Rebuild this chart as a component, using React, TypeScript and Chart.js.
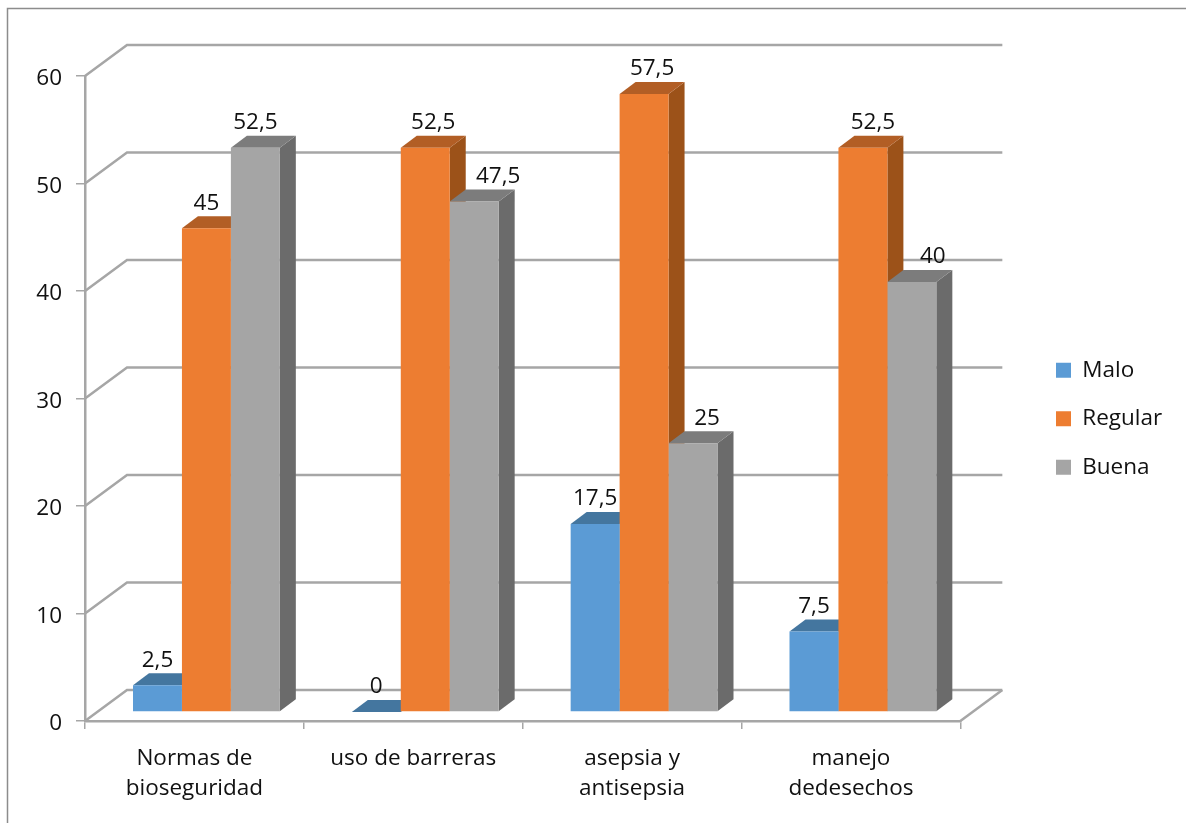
import React, { useEffect, useRef } from "react";
import { Chart, registerables } from "chart.js";

Chart.register(...registerables);

const categories = [["Normas de", "bioseguridad"], "uso de barreras", ["asepsia y", "antisepsia"], ["manejo", "dedesechos"]];
const maloValues = [2.5, 0, 17.5, 7.5];
const regularValues = [45, 52.5, 57.5, 52.5];
const buenaValues = [52.5, 47.5, 25, 40];
const seriesNames = ["Malo", "Regular", "Buena"];
const frontColors = ["#5b9bd5", "#ed7d31", "#a5a5a5"];
const topColors = ["#44769f", "#b25e25", "#7c7c7c"];
const sideColors = ["#41719c", "#9c5219", "#6b6b6b"];

// Sideways nudges that keep value labels clear of the taller neighbouring bar.
const labelNudges = [
  [0, 0, 0, 0],
  [0, 8, 8, 10],
  [0, 24, 14, 21],
];

const FONT = "'Open Sans'";
const FONT_SIZE = 22.5;
const TEXT = "#111111";
const GRID = "#a6a6a6";
// Depth of the box behind the plot, and placement of the bars inside it.
const WALL = { dx: 42, dy: -31 };
const BAR_OFFSET = { dx: 12, dy: -9 };
const BAR_DEPTH = { dx: 16, dy: -12 };

const polygon = (ctx: CanvasRenderingContext2D, pts: number[][], fill: string) => {
  ctx.beginPath();
  pts.forEach(([x, y], i) => (i ? ctx.lineTo(x, y) : ctx.moveTo(x, y)));
  ctx.closePath();
  ctx.fillStyle = fill;
  ctx.fill();
};

// Back wall, side wall and floor of the 3D box, then the receding bar faces.
const wallsPlugin = {
  id: "walls",
  beforeDatasetsDraw(chart: any) {
    const { ctx, scales } = chart;
    const { x, y } = scales;
    ctx.save();
    ctx.strokeStyle = "#8c8c8c";
    ctx.lineWidth = 1.5;
    ctx.beginPath();
    ctx.moveTo(7.5, 823);
    ctx.lineTo(7.5, 8.5);
    ctx.lineTo(1186, 8.5);
    ctx.stroke();
    ctx.strokeStyle = GRID;
    ctx.lineWidth = 2.5;
    ctx.lineJoin = "miter";
    y.ticks.forEach((t: any) => {
      const py = y.getPixelForValue(t.value);
      ctx.beginPath();
      ctx.moveTo(x.left, py);
      ctx.lineTo(x.left + WALL.dx, py + WALL.dy);
      ctx.lineTo(x.right + WALL.dx, py + WALL.dy);
      ctx.stroke();
    });
    const floor = y.getPixelForValue(0);
    ctx.beginPath();
    ctx.moveTo(x.right, floor);
    ctx.lineTo(x.right + WALL.dx, floor + WALL.dy);
    ctx.stroke();

    // Left-to-right so a neighbour's top face sits over the side face before it.
    ctx.translate(BAR_OFFSET.dx, BAR_OFFSET.dy);
    chart.data.datasets.forEach((_: any, i: number) => {
      chart.getDatasetMeta(i).data.forEach((bar: any) => {
        const l = bar.x - bar.width / 2;
        const r = bar.x + bar.width / 2;
        const { dx, dy } = BAR_DEPTH;
        polygon(ctx, [[r, bar.y], [r + dx, bar.y + dy], [r + dx, bar.base + dy], [r, bar.base]], sideColors[i]);
        polygon(ctx, [[l, bar.y], [l + dx, bar.y + dy], [r + dx, bar.y + dy], [r, bar.y]], topColors[i]);
      });
    });
    ctx.restore();
  },
};

// Shifts the front faces into the box and writes the value labels.
const barsPlugin = {
  id: "bars3d",
  beforeDatasetDraw(chart: any) {
    chart.ctx.save();
    chart.ctx.translate(BAR_OFFSET.dx, BAR_OFFSET.dy);
  },
  afterDatasetDraw(chart: any) {
    chart.ctx.restore();
  },
  afterDatasetsDraw(chart: any) {
    const { ctx } = chart;
    ctx.save();
    ctx.font = `${FONT_SIZE}px ${FONT}`;
    ctx.fillStyle = TEXT;
    ctx.textAlign = "center";
    ctx.textBaseline = "middle";
    chart.data.datasets.forEach((ds: any, i: number) => {
      chart.getDatasetMeta(i).data.forEach((bar: any, j: number) => {
        const label = String(ds.data[j]).replace(".", ",");
        ctx.fillText(label, bar.x + BAR_OFFSET.dx + labelNudges[i][j], bar.y + BAR_OFFSET.dy - 25);
      });
    });
    ctx.restore();
  },
};

// Places the legend in the right margin, clear of the plot box.
const LEGEND_PADDING = 26;
const legendPlacement = {
  id: "legendPlacement",
  afterLayout(chart: any) {
    const legend = chart.legend;
    const h = legend.bottom - legend.top;
    const w = legend.right - legend.left;
    legend.left = 1056 - LEGEND_PADDING;
    legend.right = legend.left + w;
    legend.top = 333;
    legend.bottom = legend.top + h;
  },
};

export default function App() {
  const ref = useRef<HTMLCanvasElement>(null);
  useEffect(() => {
    const values = [maloValues, regularValues, buenaValues];
    const chart = new Chart(ref.current!, {
      type: "bar",
      data: {
        labels: categories,
        datasets: seriesNames.map((label, i) => ({
          label,
          data: values[i],
          backgroundColor: frontColors[i],
          borderWidth: 0,
          categoryPercentage: 0.671,
          barPercentage: 1,
        })),
      },
      plugins: [wallsPlugin, barsPlugin, legendPlacement],
      options: {
        responsive: false,
        animation: false,
        layout: { padding: { top: 76, right: 83.5, left: 0, bottom: 0 } },
        plugins: {
          tooltip: { enabled: false },
          title: { display: false },
          legend: {
            position: "right",
            align: "start",
            labels: {
              boxWidth: 15,
              boxHeight: 15,
              padding: LEGEND_PADDING,
              color: TEXT,
              font: { family: FONT, size: FONT_SIZE, lineHeight: 1.2 },
            },
          },
        },
        scales: {
          x: {
            afterFit: (s: any) => { s.height = 102; },
            border: { color: GRID, width: 2.5 },
            grid: { drawOnChartArea: false, color: GRID, tickLength: 8, lineWidth: 1.5 },
            ticks: {
              color: TEXT,
              padding: 15,
              maxRotation: 0,
              font: { family: FONT, size: FONT_SIZE, lineHeight: 1.33 },
            },
          },
          y: {
            min: 0,
            max: 60,
            afterFit: (s: any) => { s.width = 85; },
            border: { color: GRID, width: 2.5 },
            grid: { drawOnChartArea: false, color: GRID, tickLength: 9, lineWidth: 1.5 },
            ticks: {
              stepSize: 10,
              color: TEXT,
              padding: 14,
              labelOffset: 3,
              font: { family: FONT, size: FONT_SIZE },
            },
          },
        },
      },
    });
    return () => chart.destroy();
  }, []);
  return (
    <div style={{ position: "absolute", left: 0, top: 0, width: 1186, height: 823, background: "#fff" }}>
      <canvas ref={ref} width={1186} height={823} style={{ display: "block" }} />
    </div>
  );
}
